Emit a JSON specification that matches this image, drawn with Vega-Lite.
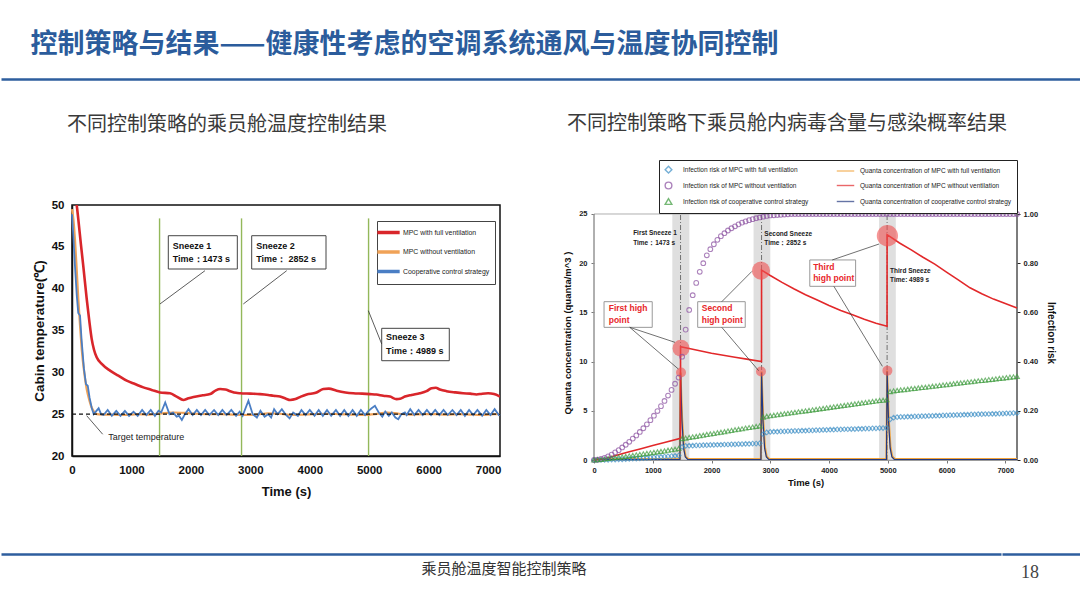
{
"$schema": "https://vega.github.io/schema/vega-lite/v6.json",
"background": "white",
"padding": {"top": 31, "left": 0, "right": 0, "bottom": 0},
"title": {"text": "控制策略与结果——健康性考虑的空调系统通风与温度协同控制", "anchor": "start", "dx": 30, "offset": 0, "fontSize": 27, "font": "Noto Sans CJK SC", "fontWeight": "bold", "color": "#2b5c9c"},
"config": {"view": {"stroke": null}, "font": "Liberation Sans", "axis": {"grid": false}},
"resolve": {"scale": {"color": "independent", "shape": "independent", "size": "independent"}, "legend": {"color": "independent", "shape": "independent", "size": "independent"}},
"datasets": {
"full": [{"t":0,"v":52},{"t":79,"v":50},{"t":106,"v":48.3},{"t":150,"v":45.3},{"t":190,"v":42.7},{"t":247,"v":38.8},{"t":290,"v":36.2},{"t":331,"v":34.0},{"t":370,"v":32.7},{"t":415,"v":31.8},{"t":500,"v":31.0},{"t":640,"v":30.2},{"t":780,"v":29.6},{"t":920,"v":29.0},{"t":1060,"v":28.6},{"t":1200,"v":28.2},{"t":1340,"v":27.9},{"t":1480,"v":27.6},{"t":1649,"v":27.5},{"t":1760,"v":27.1},{"t":1873,"v":26.7},{"t":1960,"v":26.9},{"t":2044,"v":27.05},{"t":2200,"v":27.25},{"t":2324,"v":27.4},{"t":2420,"v":27.85},{"t":2492,"v":28.0},{"t":2580,"v":27.95},{"t":2660,"v":27.75},{"t":2760,"v":27.55},{"t":2828,"v":27.5},{"t":3000,"v":27.45},{"t":3164,"v":27.4},{"t":3300,"v":27.3},{"t":3388,"v":27.2},{"t":3500,"v":27.1},{"t":3600,"v":26.85},{"t":3668,"v":26.7},{"t":3760,"v":26.8},{"t":3850,"v":27.1},{"t":3948,"v":27.35},{"t":4100,"v":27.55},{"t":4228,"v":28.0},{"t":4320,"v":28.05},{"t":4452,"v":27.8},{"t":4600,"v":27.6},{"t":4732,"v":27.5},{"t":4880,"v":27.45},{"t":5012,"v":27.4},{"t":5120,"v":27.35},{"t":5236,"v":27.2},{"t":5350,"v":27.1},{"t":5460,"v":26.8},{"t":5520,"v":26.85},{"t":5600,"v":27.1},{"t":5712,"v":27.3},{"t":5850,"v":27.5},{"t":5964,"v":27.75},{"t":6048,"v":28.1},{"t":6120,"v":28.15},{"t":6188,"v":27.95},{"t":6300,"v":27.75},{"t":6450,"v":27.6},{"t":6580,"v":27.5},{"t":6700,"v":27.45},{"t":6804,"v":27.35},{"t":6900,"v":27.45},{"t":7000,"v":27.5},{"t":7100,"v":27.4},{"t":7200,"v":27.1}],
"without": [{"t":0,"v":49.5},{"t":25,"v":48.2},{"t":50,"v":45.9},{"t":80,"v":42.2},{"t":106,"v":38.8},{"t":135,"v":35.6},{"t":163,"v":32.8},{"t":205,"v":30.0},{"t":247,"v":28.0},{"t":290,"v":26.7},{"t":331,"v":25.8},{"t":370,"v":25.3},{"t":415,"v":25.0},{"t":500,"v":24.95},{"t":700,"v":24.95},{"t":900,"v":24.9},{"t":1100,"v":25.0},{"t":1300,"v":24.95},{"t":1500,"v":25.1},{"t":1700,"v":25.2},{"t":1900,"v":25.15},{"t":2100,"v":25.05},{"t":2300,"v":25.0},{"t":2500,"v":25.0},{"t":2700,"v":24.95},{"t":2900,"v":24.9},{"t":3100,"v":24.95},{"t":3300,"v":25.1},{"t":3500,"v":25.05},{"t":3700,"v":24.9},{"t":3900,"v":24.95},{"t":4100,"v":25.0},{"t":4300,"v":25.05},{"t":4500,"v":25.0},{"t":4700,"v":24.95},{"t":4900,"v":24.9},{"t":5100,"v":25.0},{"t":5300,"v":25.2},{"t":5500,"v":25.05},{"t":5700,"v":24.95},{"t":5900,"v":25.0},{"t":6100,"v":25.0},{"t":6300,"v":24.95},{"t":6500,"v":25.0},{"t":6700,"v":24.95},{"t":6900,"v":24.9},{"t":7100,"v":25.0},{"t":7200,"v":25.0}],
"coop": [{"t":0,"v":48.9},{"t":25,"v":46},{"t":50,"v":42.7},{"t":80,"v":39.2},{"t":105,"v":37.1},{"t":135,"v":36.8},{"t":160,"v":34.0},{"t":200,"v":30.5},{"t":235,"v":28.6},{"t":265,"v":28.4},{"t":295,"v":27.0},{"t":330,"v":25.8},{"t":365,"v":25.0},{"t":400,"v":25.3},{"t":448,"v":25.7},{"t":490,"v":25.0},{"t":530,"v":24.9},{"t":600,"v":25.5},{"t":670,"v":24.8},{"t":745,"v":25.4},{"t":815,"v":24.8},{"t":890,"v":25.4},{"t":960,"v":24.8},{"t":1035,"v":25.3},{"t":1105,"v":24.8},{"t":1180,"v":25.5},{"t":1250,"v":24.9},{"t":1325,"v":25.5},{"t":1395,"v":24.8},{"t":1456,"v":25.4},{"t":1500,"v":25.2},{"t":1568,"v":26.4},{"t":1640,"v":25.0},{"t":1700,"v":25.2},{"t":1760,"v":24.7},{"t":1800,"v":24.8},{"t":1848,"v":24.3},{"t":1900,"v":25.0},{"t":1960,"v":25.6},{"t":2030,"v":24.9},{"t":2100,"v":25.5},{"t":2170,"v":24.9},{"t":2240,"v":25.5},{"t":2310,"v":24.9},{"t":2390,"v":25.5},{"t":2460,"v":24.9},{"t":2530,"v":25.5},{"t":2600,"v":24.9},{"t":2680,"v":25.5},{"t":2760,"v":24.8},{"t":2820,"v":25.3},{"t":2870,"v":24.8},{"t":2968,"v":26.6},{"t":3040,"v":25.0},{"t":3110,"v":24.6},{"t":3170,"v":25.4},{"t":3240,"v":24.7},{"t":3300,"v":25.0},{"t":3350,"v":24.6},{"t":3400,"v":25.6},{"t":3460,"v":25.0},{"t":3530,"v":25.6},{"t":3600,"v":24.9},{"t":3660,"v":24.5},{"t":3720,"v":25.2},{"t":3800,"v":24.8},{"t":3860,"v":25.5},{"t":3930,"v":24.9},{"t":4000,"v":25.5},{"t":4080,"v":24.8},{"t":4150,"v":25.5},{"t":4220,"v":24.8},{"t":4290,"v":25.5},{"t":4360,"v":24.8},{"t":4440,"v":25.5},{"t":4510,"v":24.8},{"t":4580,"v":25.5},{"t":4650,"v":24.8},{"t":4720,"v":25.5},{"t":4790,"v":24.8},{"t":4860,"v":25.5},{"t":4930,"v":24.9},{"t":4989,"v":25.4},{"t":5040,"v":25.7},{"t":5096,"v":26.0},{"t":5160,"v":25.2},{"t":5220,"v":24.7},{"t":5270,"v":25.3},{"t":5330,"v":24.8},{"t":5380,"v":25.2},{"t":5440,"v":24.6},{"t":5488,"v":24.4},{"t":5540,"v":25.0},{"t":5600,"v":25.2},{"t":5630,"v":24.9},{"t":5690,"v":25.6},{"t":5760,"v":24.9},{"t":5830,"v":25.5},{"t":5900,"v":24.9},{"t":5970,"v":25.5},{"t":6040,"v":24.9},{"t":6110,"v":25.5},{"t":6180,"v":24.9},{"t":6250,"v":25.5},{"t":6320,"v":24.9},{"t":6400,"v":25.5},{"t":6470,"v":24.9},{"t":6540,"v":25.5},{"t":6610,"v":24.8},{"t":6680,"v":25.5},{"t":6750,"v":24.9},{"t":6820,"v":25.5},{"t":6900,"v":24.8},{"t":6970,"v":25.5},{"t":7040,"v":24.9},{"t":7110,"v":25.6},{"t":7180,"v":24.9},{"t":7200,"v":25.0}],
"qw": [{"t":0,"v":0},{"t":200,"v":0.15},{"t":400,"v":0.5},{"t":600,"v":0.83},{"t":800,"v":1.15},{"t":1000,"v":1.47},{"t":1200,"v":1.78},{"t":1472,"v":2.2},{"t":1473,"v":11.5},{"t":1600,"v":11.35},{"t":1800,"v":11.1},{"t":2000,"v":10.85},{"t":2200,"v":10.65},{"t":2400,"v":10.45},{"t":2600,"v":10.25},{"t":2851,"v":10.0},{"t":2852,"v":19.3},{"t":3000,"v":18.75},{"t":3200,"v":18.05},{"t":3400,"v":17.4},{"t":3600,"v":16.8},{"t":3800,"v":16.25},{"t":4000,"v":15.7},{"t":4200,"v":15.2},{"t":4400,"v":14.75},{"t":4600,"v":14.3},{"t":4800,"v":13.9},{"t":4988,"v":13.6},{"t":4989,"v":22.9},{"t":5200,"v":22.05},{"t":5400,"v":21.35},{"t":5600,"v":20.6},{"t":5800,"v":19.9},{"t":6000,"v":19.1},{"t":6200,"v":18.3},{"t":6400,"v":17.5},{"t":6600,"v":16.9},{"t":6800,"v":16.35},{"t":7000,"v":15.9},{"t":7200,"v":15.45}],
"qf": [{"t":0,"v":0.1},{"t":1460,"v":0.1},{"t":1473,"v":8.9},{"t":1500,"v":4.2},{"t":1530,"v":1.3},{"t":1560,"v":0.35},{"t":1600,"v":0.12},{"t":2840,"v":0.1},{"t":2852,"v":9.0},{"t":2880,"v":4.2},{"t":2910,"v":1.3},{"t":2940,"v":0.35},{"t":2980,"v":0.12},{"t":4977,"v":0.1},{"t":4989,"v":9.1},{"t":5017,"v":4.2},{"t":5047,"v":1.3},{"t":5077,"v":0.35},{"t":5117,"v":0.12},{"t":7200,"v":0.1}],
"qc": [{"t":0,"v":0.05},{"t":1462,"v":0.05},{"t":1473,"v":8.8},{"t":1497,"v":4.0},{"t":1525,"v":1.2},{"t":1555,"v":0.3},{"t":1595,"v":0.07},{"t":2841,"v":0.05},{"t":2852,"v":8.9},{"t":2876,"v":4.0},{"t":2904,"v":1.2},{"t":2934,"v":0.3},{"t":2974,"v":0.07},{"t":4978,"v":0.05},{"t":4989,"v":9.0},{"t":5013,"v":4.0},{"t":5041,"v":1.2},{"t":5071,"v":0.3},{"t":5111,"v":0.07},{"t":7200,"v":0.05}],
"risk": [{"t":0,"d":0,"c":0,"g":0},{"t":60,"d":0,"c":0.001,"g":0.001},{"t":120,"d":0,"c":0.004,"g":0.002},{"t":180,"d":0.001,"c":0.009,"g":0.004},{"t":240,"d":0.001,"c":0.015,"g":0.006},{"t":300,"d":0.002,"c":0.022,"g":0.008},{"t":360,"d":0.002,"c":0.031,"g":0.010},{"t":420,"d":0.003,"c":0.040,"g":0.012},{"t":480,"d":0.003,"c":0.051,"g":0.013},{"t":540,"d":0.004,"c":0.062,"g":0.015},{"t":600,"d":0.005,"c":0.074,"g":0.017},{"t":660,"d":0.006,"c":0.087,"g":0.019},{"t":720,"d":0.006,"c":0.100,"g":0.021},{"t":780,"d":0.007,"c":0.114,"g":0.023},{"t":840,"d":0.008,"c":0.129,"g":0.025},{"t":900,"d":0.009,"c":0.145,"g":0.027},{"t":960,"d":0.010,"c":0.162,"g":0.029},{"t":1020,"d":0.011,"c":0.180,"g":0.031},{"t":1080,"d":0.012,"c":0.199,"g":0.033},{"t":1140,"d":0.013,"c":0.219,"g":0.035},{"t":1200,"d":0.014,"c":0.240,"g":0.037},{"t":1260,"d":0.015,"c":0.262,"g":0.040},{"t":1320,"d":0.016,"c":0.285,"g":0.042},{"t":1380,"d":0.017,"c":0.310,"g":0.044},{"t":1440,"d":0.018,"c":0.335,"g":0.047},{"t":1500,"d":0.053,"c":0.420,"g":0.087},{"t":1560,"d":0.057,"c":0.530,"g":0.089},{"t":1620,"d":0.058,"c":0.610,"g":0.092},{"t":1680,"d":0.058,"c":0.670,"g":0.094},{"t":1740,"d":0.059,"c":0.720,"g":0.096},{"t":1800,"d":0.059,"c":0.765,"g":0.099},{"t":1860,"d":0.060,"c":0.800,"g":0.101},{"t":1920,"d":0.060,"c":0.832,"g":0.104},{"t":1980,"d":0.061,"c":0.857,"g":0.106},{"t":2040,"d":0.061,"c":0.877,"g":0.108},{"t":2100,"d":0.062,"c":0.895,"g":0.111},{"t":2160,"d":0.062,"c":0.910,"g":0.113},{"t":2220,"d":0.063,"c":0.922,"g":0.115},{"t":2280,"d":0.063,"c":0.933,"g":0.118},{"t":2340,"d":0.064,"c":0.942,"g":0.120},{"t":2400,"d":0.064,"c":0.950,"g":0.123},{"t":2460,"d":0.065,"c":0.958,"g":0.125},{"t":2520,"d":0.065,"c":0.965,"g":0.127},{"t":2580,"d":0.066,"c":0.970,"g":0.130},{"t":2640,"d":0.066,"c":0.975,"g":0.132},{"t":2700,"d":0.067,"c":0.979,"g":0.134},{"t":2760,"d":0.067,"c":0.983,"g":0.137},{"t":2820,"d":0.068,"c":0.986,"g":0.139},{"t":2880,"d":0.105,"c":0.989,"g":0.174},{"t":2940,"d":0.112,"c":0.992,"g":0.178},{"t":3000,"d":0.114,"c":0.994,"g":0.180},{"t":3060,"d":0.115,"c":0.995,"g":0.182},{"t":3120,"d":0.115,"c":0.996,"g":0.184},{"t":3180,"d":0.116,"c":0.997,"g":0.186},{"t":3240,"d":0.116,"c":0.998,"g":0.188},{"t":3300,"d":0.117,"c":0.999,"g":0.190},{"t":3360,"d":0.117,"c":1,"g":0.192},{"t":3420,"d":0.118,"c":1,"g":0.194},{"t":3480,"d":0.118,"c":1,"g":0.196},{"t":3540,"d":0.119,"c":1,"g":0.198},{"t":3600,"d":0.119,"c":1,"g":0.200},{"t":3660,"d":0.120,"c":1,"g":0.202},{"t":3720,"d":0.120,"c":1,"g":0.204},{"t":3780,"d":0.121,"c":1,"g":0.206},{"t":3840,"d":0.121,"c":1,"g":0.208},{"t":3900,"d":0.122,"c":1,"g":0.210},{"t":3960,"d":0.122,"c":1,"g":0.212},{"t":4020,"d":0.123,"c":1,"g":0.214},{"t":4080,"d":0.123,"c":1,"g":0.216},{"t":4140,"d":0.124,"c":1,"g":0.218},{"t":4200,"d":0.124,"c":1,"g":0.220},{"t":4260,"d":0.125,"c":1,"g":0.222},{"t":4320,"d":0.125,"c":1,"g":0.224},{"t":4380,"d":0.126,"c":1,"g":0.226},{"t":4440,"d":0.126,"c":1,"g":0.228},{"t":4500,"d":0.127,"c":1,"g":0.230},{"t":4560,"d":0.127,"c":1,"g":0.232},{"t":4620,"d":0.128,"c":1,"g":0.234},{"t":4680,"d":0.128,"c":1,"g":0.236},{"t":4740,"d":0.129,"c":1,"g":0.238},{"t":4800,"d":0.129,"c":1,"g":0.240},{"t":4860,"d":0.130,"c":1,"g":0.242},{"t":4920,"d":0.130,"c":1,"g":0.243},{"t":4980,"d":0.131,"c":1,"g":0.245},{"t":5040,"d":0.165,"c":1,"g":0.278},{"t":5100,"d":0.172,"c":1,"g":0.281},{"t":5160,"d":0.174,"c":1,"g":0.283},{"t":5220,"d":0.175,"c":1,"g":0.285},{"t":5280,"d":0.175,"c":1,"g":0.286},{"t":5340,"d":0.176,"c":1,"g":0.288},{"t":5400,"d":0.176,"c":1,"g":0.290},{"t":5460,"d":0.177,"c":1,"g":0.291},{"t":5520,"d":0.177,"c":1,"g":0.293},{"t":5580,"d":0.178,"c":1,"g":0.295},{"t":5640,"d":0.178,"c":1,"g":0.296},{"t":5700,"d":0.179,"c":1,"g":0.298},{"t":5760,"d":0.179,"c":1,"g":0.300},{"t":5820,"d":0.180,"c":1,"g":0.301},{"t":5880,"d":0.180,"c":1,"g":0.303},{"t":5940,"d":0.181,"c":1,"g":0.305},{"t":6000,"d":0.181,"c":1,"g":0.306},{"t":6060,"d":0.182,"c":1,"g":0.308},{"t":6120,"d":0.182,"c":1,"g":0.310},{"t":6180,"d":0.183,"c":1,"g":0.312},{"t":6240,"d":0.183,"c":1,"g":0.313},{"t":6300,"d":0.184,"c":1,"g":0.315},{"t":6360,"d":0.184,"c":1,"g":0.317},{"t":6420,"d":0.185,"c":1,"g":0.318},{"t":6480,"d":0.185,"c":1,"g":0.320},{"t":6540,"d":0.186,"c":1,"g":0.322},{"t":6600,"d":0.186,"c":1,"g":0.323},{"t":6660,"d":0.187,"c":1,"g":0.325},{"t":6720,"d":0.187,"c":1,"g":0.327},{"t":6780,"d":0.188,"c":1,"g":0.328},{"t":6840,"d":0.188,"c":1,"g":0.330},{"t":6900,"d":0.189,"c":1,"g":0.332},{"t":6960,"d":0.189,"c":1,"g":0.333},{"t":7020,"d":0.190,"c":1,"g":0.335},{"t":7080,"d":0.190,"c":1,"g":0.337},{"t":7140,"d":0.191,"c":1,"g":0.338},{"t":7200,"d":0.191,"c":1,"g":0.340}]
},
"spacing": 34,
"vconcat": [
{
 "width": 1080, "height": 20,
 "data": {"values": [{"v": 0}]},
 "view": {"fill": "white", "stroke": null},
 "mark": {"type": "point", "opacity": 0, "size": 1},
 "encoding": {"x": {"field": "v", "type": "quantitative", "scale": {"domain": [0, 1]}, "axis": {"domainColor": "#2e5e9e", "domainWidth": 2.5, "ticks": false, "labels": false, "title": null}}}
},
{
 "spacing": 54,
 "resolve": {"scale": {"color": "independent", "shape": "independent", "size": "independent"}, "legend": {"color": "independent", "shape": "independent", "size": "independent"}},
 "vconcat": [
 {
  "spacing": 0,
  "resolve": {"scale": {"color": "independent", "shape": "independent", "size": "independent"}, "legend": {"color": "independent", "shape": "independent", "size": "independent"}},
  "hconcat": [
  {
   "width": 30, "height": 1,
   "data": {"values": [{"v": 0}]},
   "view": {"fill": "white", "stroke": null},
   "mark": {"type": "point", "opacity": 0, "size": 1},
   "encoding": {}
  },
  {
   "width": 428, "height": 251,
   "view": {"stroke": "#111", "strokeWidth": 1.5},
   "title": {"text": "不同控制策略的乘员舱温度控制结果", "anchor": "start", "frame": "group", "dx": -5, "offset": 64, "fontSize": 20, "font": "Noto Sans CJK SC", "fontWeight": "normal", "color": "#3a3a3a"},
   "encoding": {
    "x": {"field": "t", "type": "quantitative", "scale": {"domain": [0, 7200], "nice": false}, "title": "Time (s)", "axis": {"values": [0,1000,2000,3000,4000,5000,6000,7000], "format": "d", "titleFontSize": 13, "titleFontWeight": "bold", "titleColor": "#111", "labelFontSize": 11.5, "labelFontWeight": "bold", "labelColor": "#111", "ticks": false, "domainColor": "#111", "domainWidth": 1.5, "labelPadding": 8, "titlePadding": 10, "labelFlush": false}},
    "y": {"field": "v", "type": "quantitative", "scale": {"domain": [20, 50], "nice": false, "zero": false}, "title": "Cabin temperature(℃)", "axis": {"values": [20,25,30,35,40,45,50], "titleFontSize": 13.5, "titleFontWeight": "bold", "titleColor": "#111", "labelFontSize": 11.5, "labelFontWeight": "bold", "labelColor": "#111", "ticks": false, "domainColor": "#111", "domainWidth": 1.5, "labelPadding": 8, "titlePadding": 5}}
   },
   "layer": [
    {"data": {"values": [{"t": 1473, "v": 20, "v2": 48.4}, {"t": 2852, "v": 20, "v2": 48.4}, {"t": 4989, "v": 20, "v2": 48.4}]}, "mark": {"type": "rule", "color": "#93b85a", "strokeWidth": 1.4}, "encoding": {"y2": {"field": "v2"}}},
    {"data": {"name": "full"}, "mark": {"type": "line", "strokeWidth": 2.6, "clip": true, "interpolate": "monotone"}, "encoding": {"color": {"datum": "MPC with full ventilation", "scale": {"domain": ["MPC with full ventilation", "MPC without ventilation", "Cooperative control strategy"], "range": ["#d9262b", "#f0a257", "#4a7ec4"]}, "legend": {"title": null, "orient": "none", "legendX": 305, "legendY": 16, "symbolType": "M-2.5,0H2.5", "symbolSize": 80, "symbolStrokeWidth": 3.5, "labelFontSize": 6.9, "labelColor": "#222", "rowPadding": 4.5, "padding": 5, "strokeColor": "#444", "fillColor": "white", "labelOffset": 8}}}},
    {"data": {"name": "without"}, "mark": {"type": "line", "strokeWidth": 2.2, "interpolate": "monotone"}, "encoding": {"color": {"datum": "MPC without ventilation", "scale": {"domain": ["MPC with full ventilation", "MPC without ventilation", "Cooperative control strategy"], "range": ["#d9262b", "#f0a257", "#4a7ec4"]}}}},
    {"data": {"name": "coop"}, "mark": {"type": "line", "strokeWidth": 1.8}, "encoding": {"color": {"datum": "Cooperative control strategy", "scale": {"domain": ["MPC with full ventilation", "MPC without ventilation", "Cooperative control strategy"], "range": ["#d9262b", "#f0a257", "#4a7ec4"]}}}},
    {"data": {"values": [{"t": 0, "t2": 7200, "v": 25}]}, "mark": {"type": "rule", "color": "#111", "strokeWidth": 1.3, "strokeDash": [4, 3]}, "encoding": {"x2": {"field": "t2"}}},
    {"data": {"values": [{"t":1620,"t2":2781,"v":42.35,"v2":46.33},{"t":3023,"t2":4273,"v":42.35,"v2":46.33},{"t":5210,"t2":6347,"v":31.39,"v2":35.26}]}, "mark": {"type": "rect", "fill": "white", "stroke": "#444", "strokeWidth": 1}, "encoding": {"x2": {"field": "t2"}, "y2": {"field": "v2"}}},
    {"data": {"values": [{"t":1694,"v":45.14,"text":"Sneeze 1"},{"t":1694,"v":43.55,"text":"Time：1473 s"},{"t":3099,"v":45.14,"text":"Sneeze 2"},{"t":3099,"v":43.55,"text":"Time： 2852 s"},{"t":5284,"v":34.19,"text":"Sneeze 3"},{"t":5284,"v":32.5,"text":"Time：4989 s"}]}, "mark": {"type": "text", "align": "left", "baseline": "middle", "fontSize": 9, "fontWeight": "bold", "color": "#111"}, "encoding": {"text": {"field": "text"}}},
    {"data": {"values": [{"t":611,"v":22.24,"text":"Target temperature"}]}, "mark": {"type": "text", "align": "left", "baseline": "middle", "fontSize": 9, "color": "#222"}, "encoding": {"text": {"field": "text"}}},
    {"data": {"values": [{"t":2237,"v":42.15,"t2":1480,"v2":38.17},{"t":3612,"v":42.15,"t2":2882,"v2":38.17},{"t":5210,"v":33.39,"t2":4985,"v2":37.37},{"t":516,"v":22.6,"t2":247,"v2":24.82}]}, "mark": {"type": "rule", "color": "#333", "strokeWidth": 0.8}, "encoding": {"x2": {"field": "t2"}, "y2": {"field": "v2"}}}
   ]
  },
  {
   "width": 56, "height": 1,
   "data": {"values": [{"v": 0}]},
   "view": {"fill": "white", "stroke": null},
   "mark": {"type": "point", "opacity": 0, "size": 1},
   "encoding": {}
  },
  {
   "width": 423, "height": 255,
   "view": {"stroke": null},
   "title": {"text": "不同控制策略下乘员舱内病毒含量与感染概率结果", "anchor": "start", "frame": "group", "dx": -27, "offset": 26, "fontSize": 20, "font": "Noto Sans CJK SC", "fontWeight": "normal", "color": "#3a3a3a"},
   "resolve": {"scale": {"y": "independent"}},
   "layer": [
    {
     "encoding": {
      "x": {"field": "t", "type": "quantitative", "scale": {"domain": [0, 7200], "nice": false}, "title": "Time (s)", "axis": {"values": [0,1000,2000,3000,4000,5000,6000,7000], "format": "d", "titleFontSize": 9.5, "titleFontWeight": "bold", "titleColor": "#111", "labelFontSize": 7.5, "labelFontWeight": "bold", "labelColor": "#222", "tickSize": 3, "tickColor": "#777", "domainColor": "#888", "labelPadding": 3, "titlePadding": 4, "labelFlush": false}},
      "y": {"field": "v", "type": "quantitative", "scale": {"domain": [0, 25.9146], "nice": false}, "title": "Quanta concentration (quanta/m^3 )", "axis": {"values": [0,5,10,15,20,25], "domain": false, "titleFontSize": 9.5, "titleFontWeight": "bold", "titleColor": "#111", "labelFontSize": 7.5, "labelFontWeight": "bold", "labelColor": "#222", "tickSize": 3, "tickColor": "#777", "labelPadding": 4, "titlePadding": 6}}
     },
     "layer": [
      {"data": {"values": [{"t":1333,"t2":1623,"v":0,"v2":25},{"t":2716,"t2":3001,"v":0,"v2":25},{"t":4852,"t2":5137,"v":0,"v2":25}]}, "mark": {"type": "rect", "color": "#d4d4d4", "opacity": 0.75}, "encoding": {"x2": {"field": "t2"}, "y2": {"field": "v2"}}},
      {"data": {"values": [{"t":0,"t2":7200,"v":0,"v2":25}]}, "mark": {"type": "rect", "fillOpacity": 0, "stroke": "#b0b0b0", "strokeWidth": 1}, "encoding": {"x2": {"field": "t2"}, "y2": {"field": "v2"}}},
      {"data": {"values": [{"t":0,"v":0,"v2":25}]}, "mark": {"type": "rule", "color": "#888", "strokeWidth": 1}, "encoding": {"y2": {"field": "v2"}}},
      {"data": {"values": [{"t":7200,"v":0,"v2":25}]}, "mark": {"type": "rule", "color": "#222", "strokeWidth": 1}, "encoding": {"y2": {"field": "v2"}}},
      {"data": {"values": [{"t": 1473, "v": 0, "v2": 25}, {"t": 2852, "v": 0, "v2": 25}, {"t": 4989, "v": 0, "v2": 25}]}, "mark": {"type": "rule", "color": "#555", "strokeWidth": 0.8, "strokeDash": [5, 2, 1, 2]}, "encoding": {"y2": {"field": "v2"}}},
      {"data": {"name": "qf"}, "mark": {"type": "line", "strokeWidth": 2}, "encoding": {"color": {"datum": "Quanta concentration of MPC with full ventilation", "scale": {"domain": ["Infection risk of MPC with full ventilation", "Infection risk of MPC without ventilation", "Infection risk of cooperative control strategy", "Quanta concentration of MPC with full ventilation", "Quanta concentration of MPC without ventilation", "Quanta concentration of cooperative control strategy"], "range": ["#3d8fc6", "#8a4fa0", "#3c9b3c", "#f2a33a", "#e2282a", "#243a80"]}}}},
      {"data": {"name": "qc"}, "mark": {"type": "line", "strokeWidth": 1.2}, "encoding": {"color": {"datum": "Quanta concentration of cooperative control strategy", "scale": {"domain": ["Infection risk of MPC with full ventilation", "Infection risk of MPC without ventilation", "Infection risk of cooperative control strategy", "Quanta concentration of MPC with full ventilation", "Quanta concentration of MPC without ventilation", "Quanta concentration of cooperative control strategy"], "range": ["#3d8fc6", "#8a4fa0", "#3c9b3c", "#f2a33a", "#e2282a", "#243a80"]}}}},
      {"data": {"name": "qw"}, "mark": {"type": "line", "strokeWidth": 1.6}, "encoding": {"color": {"datum": "Quanta concentration of MPC without ventilation", "scale": {"domain": ["Infection risk of MPC with full ventilation", "Infection risk of MPC without ventilation", "Infection risk of cooperative control strategy", "Quanta concentration of MPC with full ventilation", "Quanta concentration of MPC without ventilation", "Quanta concentration of cooperative control strategy"], "range": ["#3d8fc6", "#8a4fa0", "#3c9b3c", "#f2a33a", "#e2282a", "#243a80"]}}}},
      {"data": {"values": [{"t":1481,"v":8.9},{"t":2842,"v":9.0},{"t":4994,"v":9.08}]}, "mark": {"type": "circle", "color": "#f05050", "opacity": 0.6, "size": 100}},
      {"data": {"values": [{"t":1481,"v":11.35}]}, "mark": {"type": "circle", "color": "#f05050", "opacity": 0.6, "size": 290}},
      {"data": {"values": [{"t":2842,"v":19.24}]}, "mark": {"type": "circle", "color": "#f05050", "opacity": 0.6, "size": 330}},
      {"data": {"values": [{"t":4994,"v":22.8}]}, "mark": {"type": "circle", "color": "#f05050", "opacity": 0.6, "size": 450}},
      {"data": {"values": [{"t":171,"t2":991,"v":13.48,"v2":16.09},{"t":1765,"t2":2574,"v":13.48,"v2":16.09},{"t":3673,"t2":4453,"v":17.65,"v2":20.33}]}, "mark": {"type": "rect", "fill": "white", "stroke": "#999", "strokeWidth": 1}, "encoding": {"x2": {"field": "t2"}, "y2": {"field": "v2"}}},
      {"data": {"values": [{"t":666,"v":23.03,"text":"First Sneeze 1"},{"t":666,"v":22.1,"text":"Time：1473 s"},{"t":2899,"v":22.97,"text":"Second Sneeze"},{"t":2899,"v":22.05,"text":"Time：2852 s"},{"t":5040,"v":19.17,"text":"Third Sneeze"},{"t":5040,"v":18.29,"text":"Time: 4989 s"}]}, "mark": {"type": "text", "align": "left", "baseline": "middle", "fontSize": 6.5, "fontWeight": "bold", "color": "#222"}, "encoding": {"text": {"field": "text"}}},
      {"data": {"values": [{"t":250,"v":15.41,"text":"First high"},{"t":250,"v":14.26,"text":"point"},{"t":1834,"v":15.41,"text":"Second"},{"t":1834,"v":14.26,"text":"high point"},{"t":3730,"v":19.65,"text":"Third"},{"t":3730,"v":18.5,"text":"high point"}]}, "mark": {"type": "text", "align": "left", "baseline": "middle", "fontSize": 8.5, "fontWeight": "bold", "color": "#e8262a"}, "encoding": {"text": {"field": "text"}}},
      {"data": {"values": [{"t":609,"v":13.48,"t2":1378,"v2":11.96},{"t":609,"v":13.48,"t2":1435,"v2":9.25},{"t":2175,"v":16.09,"t2":2688,"v2":19.17},{"t":2175,"v":13.48,"t2":2802,"v2":9.08},{"t":4055,"v":20.33,"t2":4852,"v2":21.95},{"t":4083,"v":17.65,"t2":4909,"v2":9.52}]}, "mark": {"type": "rule", "color": "#333", "strokeWidth": 0.7}, "encoding": {"x2": {"field": "t2"}, "y2": {"field": "v2"}}}
     ]
    },
    {
     "data": {"name": "risk"},
     "encoding": {"x": {"field": "t", "type": "quantitative", "title": "Time (s)"}},
     "layer": [
      {"mark": {"type": "point", "filled": false, "size": 22, "strokeWidth": 1.1}, "encoding": {
        "y": {"field": "d", "type": "quantitative", "scale": {"domain": [0, 1.03659], "nice": false}, "title": "Infection risk", "axis": {"orient": "right", "values": [0,0.1,0.2,0.3,0.4,0.5,0.6,0.7,0.8,0.9,1], "format": ".2f", "domain": false, "titleFontSize": 10, "titleFontWeight": "bold", "titleColor": "#111", "labelFontSize": 7.5, "labelFontWeight": "bold", "labelColor": "#222", "tickSize": 3, "tickColor": "#222", "labelPadding": 3, "titlePadding": 8}},
        "color": {"datum": "Infection risk of MPC with full ventilation", "scale": {"domain": ["Infection risk of MPC with full ventilation", "Infection risk of MPC without ventilation", "Infection risk of cooperative control strategy", "Quanta concentration of MPC with full ventilation", "Quanta concentration of MPC without ventilation", "Quanta concentration of cooperative control strategy"], "range": ["#3d8fc6", "#8a4fa0", "#3c9b3c", "#f2a33a", "#e2282a", "#243a80"]}, "legend": {"title": null, "orient": "none", "legendX": 65, "legendY": -45, "columns": 2, "symbolSize": 45, "symbolStrokeWidth": 1.4, "symbolFillColor": "transparent", "labelFontSize": 6.5, "labelColor": "#222", "padding": 5, "rowPadding": 3, "columnPadding": 24, "strokeColor": "#222", "fillColor": "white", "labelOffset": 10, "labelLimit": 300}},
        "shape": {"datum": "Infection risk of MPC with full ventilation", "scale": {"domain": ["Infection risk of MPC with full ventilation", "Infection risk of MPC without ventilation", "Infection risk of cooperative control strategy", "Quanta concentration of MPC with full ventilation", "Quanta concentration of MPC without ventilation", "Quanta concentration of cooperative control strategy"], "range": ["diamond", "circle", "triangle-up", "M-2.6,0H2.6", "M-2.6,0H2.6", "M-2.6,0H2.6"]}}
      }},
      {"mark": {"type": "point", "filled": false, "size": 22, "strokeWidth": 1.1}, "encoding": {
        "y": {"field": "c", "type": "quantitative", "title": "Infection risk"},
        "color": {"datum": "Infection risk of MPC without ventilation", "scale": {"domain": ["Infection risk of MPC with full ventilation", "Infection risk of MPC without ventilation", "Infection risk of cooperative control strategy", "Quanta concentration of MPC with full ventilation", "Quanta concentration of MPC without ventilation", "Quanta concentration of cooperative control strategy"], "range": ["#3d8fc6", "#8a4fa0", "#3c9b3c", "#f2a33a", "#e2282a", "#243a80"]}},
        "shape": {"datum": "Infection risk of MPC without ventilation", "scale": {"domain": ["Infection risk of MPC with full ventilation", "Infection risk of MPC without ventilation", "Infection risk of cooperative control strategy", "Quanta concentration of MPC with full ventilation", "Quanta concentration of MPC without ventilation", "Quanta concentration of cooperative control strategy"], "range": ["diamond", "circle", "triangle-up", "M-2.6,0H2.6", "M-2.6,0H2.6", "M-2.6,0H2.6"]}}
      }},
      {"mark": {"type": "point", "filled": false, "size": 22, "strokeWidth": 1.1}, "encoding": {
        "y": {"field": "g", "type": "quantitative", "title": "Infection risk"},
        "color": {"datum": "Infection risk of cooperative control strategy", "scale": {"domain": ["Infection risk of MPC with full ventilation", "Infection risk of MPC without ventilation", "Infection risk of cooperative control strategy", "Quanta concentration of MPC with full ventilation", "Quanta concentration of MPC without ventilation", "Quanta concentration of cooperative control strategy"], "range": ["#3d8fc6", "#8a4fa0", "#3c9b3c", "#f2a33a", "#e2282a", "#243a80"]}},
        "shape": {"datum": "Infection risk of cooperative control strategy", "scale": {"domain": ["Infection risk of MPC with full ventilation", "Infection risk of MPC without ventilation", "Infection risk of cooperative control strategy", "Quanta concentration of MPC with full ventilation", "Quanta concentration of MPC without ventilation", "Quanta concentration of cooperative control strategy"], "range": ["diamond", "circle", "triangle-up", "M-2.6,0H2.6", "M-2.6,0H2.6", "M-2.6,0H2.6"]}}
      }}
     ]
    }
   ]
  }
  ]
 },
 {
  "spacing": 0,
  "hconcat": [
  {
   "width": 1000, "height": 1,
   "data": {"values": [{"v": 0}]},
   "view": {"fill": "white", "stroke": null},
   "mark": {"type": "point", "opacity": 0, "size": 1},
   "encoding": {"x": {"field": "v", "type": "quantitative", "scale": {"domain": [0, 1]}, "axis": {"orient": "top", "domainColor": "#2e5e9e", "domainWidth": 2.5, "ticks": false, "labels": false, "title": null}}},
   "title": {"text": "乘员舱温度智能控制策略", "orient": "bottom", "anchor": "middle", "dx": 3, "offset": 7, "fontSize": 15, "font": "Noto Sans CJK SC", "fontWeight": "normal", "color": "#333"}
  },
  {
   "width": 80, "height": 1,
   "data": {"values": [{"v": 0}]},
   "view": {"fill": "white", "stroke": null},
   "mark": {"type": "point", "opacity": 0, "size": 1},
   "encoding": {"x": {"field": "v", "type": "quantitative", "scale": {"domain": [0, 1]}, "axis": {"orient": "top", "domainColor": "#2e5e9e", "domainWidth": 2.5, "ticks": false, "labels": false, "title": null}}},
   "title": {"text": "18", "orient": "bottom", "anchor": "middle", "dx": -12, "offset": 9, "fontSize": 18, "font": "Liberation Serif", "fontWeight": "normal", "color": "#444"}
  }
  ]
 }
 ]
}
]
}
